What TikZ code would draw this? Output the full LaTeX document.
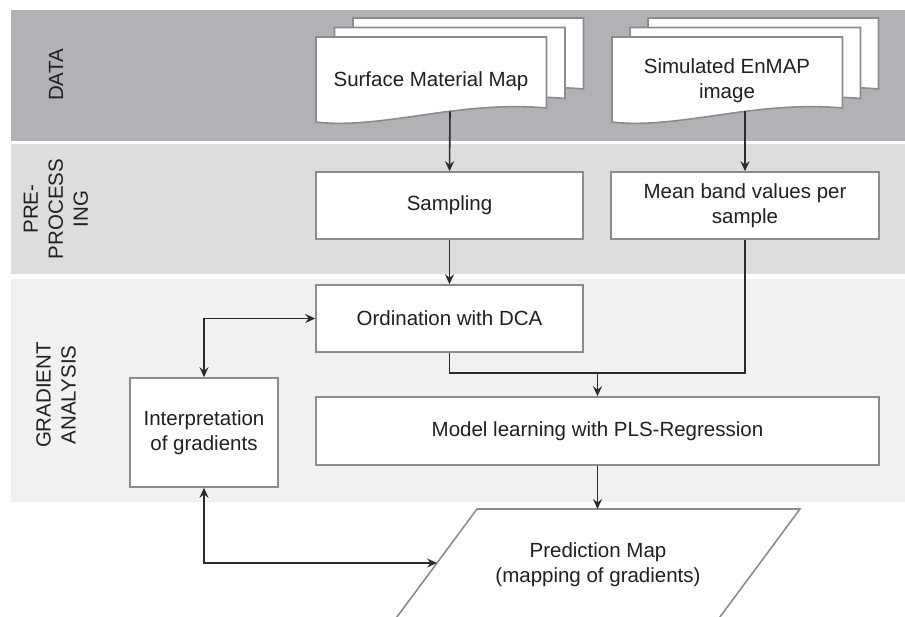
\documentclass[tikz,border=0pt]{standalone}
\usepackage{fontspec}
\setmainfont{Liberation Sans}
\usetikzlibrary{arrows.meta}

\definecolor{bandA}{HTML}{B1B2B5}
\definecolor{bandB}{HTML}{DCDDDF}
\definecolor{bandC}{HTML}{F0F1F3}
\definecolor{edgegray}{HTML}{8C8C8C}
\definecolor{ink}{HTML}{231F20}
\definecolor{wirecol}{HTML}{2B2B2B}

\tikzset{
  bandfill/.style={fill=#1, draw=none},
  procbox/.style={draw=edgegray, line width=1.6pt, fill=white},
  txt/.style={text=ink, font=\fontsize{20.5}{25}\selectfont, align=center, inner sep=0pt},
  boxnode/.style={procbox, txt},
  lbl/.style={txt, rotate=90},
  wire/.style={draw=wirecol, line width=1.6pt},
  tip/.tip={Stealth[length=10pt, width=9pt, inset=3.5pt]},
  arr/.style={wire, -tip},
  darr/.style={wire, tip-tip},
  pics/sheet/.style={code={
    \draw[procbox] (0,0) -- (230.5,0) -- (230.5,71)
      .. controls (143,63) and (64.5,93) .. (0,85) -- cycle;
  }},
}

\begin{document}
\begin{tikzpicture}[x=1pt, y=-1pt]
  \useasboundingbox (0,0) rectangle (905,617);
  \clip (0,0) rectangle (905,617);

  % horizontal swim lanes
  \fill[bandfill=bandA] (11,10) rectangle (905,141);
  \fill[bandfill=bandB] (11,144) rectangle (905,274);
  \fill[bandfill=bandC] (11,279) rectangle (905,502);

  % lane titles
  \node[lbl] (lData) at (56,75) {DATA};
  \node[lbl] (lPre) at (56,209) {PRE-\\PROCESS\\ING};
  \node[lbl] (lGrad) at (56,395) {GRADIENT\\ANALYSIS};

  % stacked input documents
  \pic at (353,18) {sheet};
  \pic at (334.5,27.5) {sheet};
  \pic at (316,37) {sheet};
  \node[txt] (smm) at (431,81) {Surface Material Map};
  \coordinate (smmB) at (450,111.5);

  \pic at (648,18) {sheet};
  \pic at (630,27.5) {sheet};
  \pic at (612,37) {sheet};
  \node[txt] (emap) at (727,80.5) {Simulated EnMAP\\image};
  \coordinate (emapB) at (745,111.5);

  % process boxes
  \node[boxnode, minimum width=267pt, minimum height=67pt] (samp) at (449.5,205.5) {Sampling};
  \node[boxnode, minimum width=268pt, minimum height=67pt] (mean) at (745,205.5) {Mean band values per\\sample};
  \node[boxnode, minimum width=267pt, minimum height=67pt] (ord) at (449.5,318.5) {Ordination with DCA};
  \node[boxnode, minimum width=563pt, minimum height=68pt] (model) at (597.5,431) {Model learning with PLS-Regression};
  \node[boxnode, minimum width=148pt, minimum height=109pt] (interp) at (204,432.5) {Interpretation\\of gradients};

  % output parallelogram
  \coordinate (pTL) at (477,509);
  \coordinate (pTR) at (800,509);
  \coordinate (pBR) at (714,625);
  \coordinate (pBL) at (391,625);
  \draw[procbox] (pTL) -- (pTR) -- (pBR) -- (pBL) -- cycle;
  \node[txt] (pred) at (598,565) {Prediction Map\\(mapping of gradients)};
  \coordinate (predIn) at (437,563);

  % connectors
  \draw[arr] (smmB) -- (samp.north);
  \draw[arr] (emapB) -- (mean.north);
  \draw[arr] (samp.south) -- (ord.north);
  \coordinate (join) at (597.5,373);
  \draw[wire] (ord.south) |- (join) -| (mean.south);
  \draw[arr] (join) -- (model.north);
  \draw[arr] (model.south) -- (model.south |- pTL);
  \draw[darr] (interp.north) |- (ord.west);
  \draw[darr] (interp.south) |- (predIn);
\end{tikzpicture}
\end{document}
